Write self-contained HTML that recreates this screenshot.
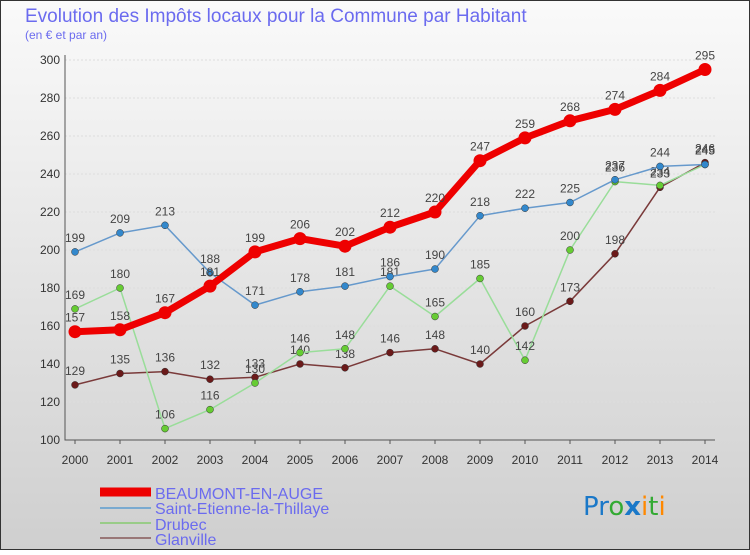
<!DOCTYPE html>
<html><head><meta charset="utf-8"><style>
body{margin:0;width:750px;height:550px;overflow:hidden;font-family:"Liberation Sans",sans-serif}
</style></head><body>
<svg id="c" width="750" height="550" xmlns="http://www.w3.org/2000/svg">
<defs><linearGradient id="bg" x1="0" y1="0" x2="0" y2="1"><stop offset="0" stop-color="#fafafa"/><stop offset="1" stop-color="#cfcfcf"/></linearGradient></defs>
<rect x="0.5" y="0.5" width="749" height="549" fill="url(#bg)" stroke="#333"/>
<text x="25" y="22" font-size="19" fill="#6b6bef">Evolution des Impôts locaux pour la Commune par Habitant</text>
<text x="25" y="39" font-size="12" fill="#6b6bef">(en € et par an)</text>
<g id="grid"></g><g id="series"></g>
<g font-size="16" fill="#6b6bef">
<line x1="100" y1="492" x2="151" y2="492" stroke="#e00" stroke-width="9"/>
<text x="155" y="499">BEAUMONT-EN-AUGE</text>
<line x1="100" y1="508" x2="151" y2="508" stroke="#7aaad0" stroke-width="2"/>
<text x="155" y="514">Saint-Etienne-la-Thillaye</text>
<line x1="100" y1="523" x2="151" y2="523" stroke="#9c8" stroke-width="2"/>
<text x="155" y="530">Drubec</text>
<line x1="100" y1="538" x2="151" y2="538" stroke="#977" stroke-width="2"/>
<text x="155" y="545">Glanville</text>
</g>
<text x="583" y="515" font-size="26" font-family="'DejaVu Sans',sans-serif"><tspan fill="#1a78c8">Pr</tspan><tspan fill="#3a3">o</tspan><tspan fill="#1a78c8" font-weight="bold">x</tspan><tspan fill="#f80">i</tspan><tspan fill="#3a3">t</tspan><tspan fill="#f80">i</tspan></text>
</svg>
<script>
const years=[2000,2001,2002,2003,2004,2005,2006,2007,2008,2009,2010,2011,2012,2013,2014];
const yTicks=[100,120,140,160,180,200,220,240,260,280,300];
const beaumont=[157,158,167,181,199,206,202,212,220,247,259,268,274,284,295];
const stEtienne=[199,209,213,188,171,178,181,186,190,218,222,225,237,244,245];
const drubec=[169,180,106,116,130,146,148,181,165,185,142,200,236,234,245];
const glanville=[129,135,136,132,133,140,138,146,148,140,160,173,198,233,246];
const NS="http://www.w3.org/2000/svg";
const X=i=>75+i*45, Y=v=>440-(v-100)*1.9;
function mk(t,a,p){const e=document.createElementNS(NS,t);for(const k in a)e.setAttribute(k,a[k]);p.appendChild(e);return e;}
const g=document.getElementById('grid'), s=document.getElementById('series');
yTicks.forEach(v=>{
 const l=mk('line',{x1:65,x2:715,y1:Y(v),y2:Y(v),stroke:'#ddd','stroke-dasharray':'2,2'},g);
 
 
 const t=mk('text',{x:60,y:Y(v)+4,'text-anchor':'end','font-size':12,fill:'#333'},g);t.textContent=v;
 
 
});
const ax=mk('path',{d:'M65 55V440H715',stroke:'#555',fill:'none'},g);


years.forEach((y,i)=>{
 mk('line',{x1:X(i),x2:X(i),y1:440,y2:444,stroke:'#555'},g);
 const t=mk('text',{x:X(i),y:464,'text-anchor':'middle','font-size':12,fill:'#333'},g);t.textContent=y;
 
 
});
function draw(name,data,color,dot,w,r){
 const grp=mk('g',{},s);
 
 
 const p=mk('polyline',{points:data.map((v,i)=>X(i)+','+Y(v)).join(' '),fill:'none',stroke:color,'stroke-width':w,'stroke-linejoin':'round'},grp);
 
 
 data.forEach((v,i)=>{
  const c=mk('circle',{cx:X(i),cy:Y(v),r:r,fill:dot,stroke:color==='#e00'?'none':'#333','stroke-width':0.5},grp);
  
  
  const t=mk('text',{x:X(i),y:Y(v)-10,'text-anchor':'middle','font-size':12,fill:'#444'},grp);t.textContent=v;
  
  
 });
}
draw('glanville',glanville,'#7a3a3a','#6b1a1a',1.5,3.5);
draw('drubec',drubec,'#9d9','#6c3',1.5,3.5);
draw('saint-etienne',stEtienne,'#69c','#38c',1.5,3.5);
draw('beaumont',beaumont,'#e00','#e00',7,6.5);
</script>
</body></html>
